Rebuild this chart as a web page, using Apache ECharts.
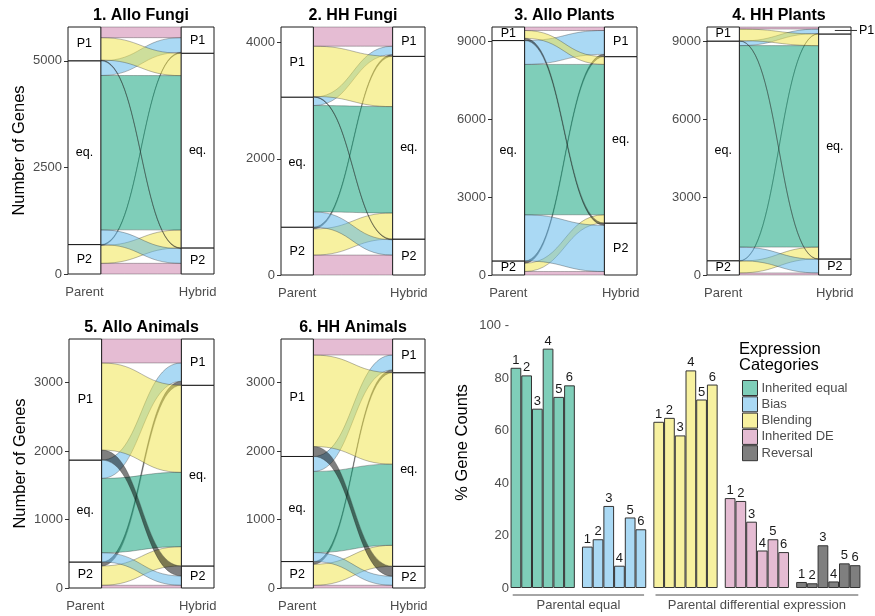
<!DOCTYPE html>
<html>
<head>
<meta charset="utf-8">
<script src="https://cdn.jsdelivr.net/npm/echarts@6/dist/echarts.min.js"></script>
<style>
html, body { margin: 0; padding: 0; background: #fff; }
#chart { width: 875px; height: 616px; }
</style>
</head>
<body>
<div id="chart"></div>
<script>
const panelTitles = ['1. Allo Fungi', '2. HH Fungi', '3. Allo Plants', '4. HH Plants', '5. Allo Animals', '6. HH Animals'];
const strata = ['P2', 'eq.', 'P1']; // bottom to top
const categories = ['Inherited equal', 'Bias', 'Blending', 'Inherited DE', 'Reversal'];

// gene counts per flow, parent stratum -> hybrid stratum
// order: P2>P2, P2>eq, P2>P1, eq>P2, eq>eq, eq>P1, P1>P2, P1>eq, P1>P1
const flowFrom = [0, 0, 0, 1, 1, 1, 2, 2, 2];
const flowTo = [0, 1, 2, 0, 1, 2, 0, 1, 2];
const flowCat = [3, 2, 4, 1, 0, 1, 4, 2, 3];

const alloFungi = [250, 420, 20, 345, 3620, 345, 17, 525, 250];
const hhFungi = [343, 450, 30, 263, 1830, 145, 12, 865, 330];
const alloPlants = [135, 320, 88, 1780, 5800, 920, 88, 300, 135];
const hhPlants = [80, 455, 15, 525, 7760, 175, 14, 450, 78];
const alloAnimals = [40, 282, 58, 136, 1086, 268, 146, 1273, 350];
const hhAnimals = [40, 306, 40, 131, 1185, 218, 146, 1335, 234];
const panelFlows = [alloFungi, hhFungi, alloPlants, hhPlants, alloAnimals, hhAnimals];

const yTicks = [
	[0, 2500, 5000],
	[0, 2000, 4000],
	[0, 3000, 6000, 9000],
	[0, 3000, 6000, 9000],
	[0, 1000, 2000, 3000],
	[0, 1000, 2000, 3000],
];

// % gene counts, one value per panel (1..6)
const pctEqual = [84.0, 81.1, 68.4, 91.3, 72.9, 77.3];
const pctBias = [15.8, 18.6, 31.3, 8.5, 26.9, 22.4];
const pctBlending = [63.4, 64.9, 58.2, 83.0, 71.9, 77.6];
const pctInheritedDE = [34.3, 33.2, 25.3, 14.3, 18.6, 13.7];
const pctReversal = [2.3, 1.8, 16.3, 2.5, 9.4, 8.7];
const pctTicks = [0, 20, 40, 60, 80, 100];

const groupLabels = ['Parental equal', 'Parental differential expression'];
const groupFrom = [0, 2];
const groupTo = [1, 4];

// styles
const catColors = ['rgba(0,158,115,0.5)', 'rgba(86,180,233,0.5)', 'rgba(240,228,66,0.5)', 'rgba(204,121,167,0.5)', 'rgba(0,0,0,0.5)'];
const font = 'Liberation Sans, Arial, sans-serif';
const strataW = 0.29;
const grids = [
	{left: 68, top: 27, width: 146, height: 247},
	{left: 281, top: 27, width: 144, height: 248},
	{left: 492, top: 27, width: 145, height: 248},
	{left: 707, top: 27, width: 144, height: 248},
	{left: 69, top: 339, width: 145, height: 249},
	{left: 281, top: 339, width: 144, height: 249},
	{left: 507, top: 297, width: 357, height: 291},
];

function layoutPanel(counts) {
	const left = [], right = [], stratL = [], stratR = [];
	let y = 0;
	for (let s = 0; s < 3; s++) {
		const start = y;
		for (let k = 0; k < 9; k++) {
			if (flowFrom[k] !== s) continue;
			left[k] = [y, y + counts[k]];
			y += counts[k];
		}
		stratL.push([1, start, y, s]);
	}
	const total = y;
	y = 0;
	for (let t = 0; t < 3; t++) {
		const start = y;
		for (let k = 0; k < 9; k++) {
			if (flowTo[k] !== t) continue;
			right[k] = [y, y + counts[k]];
			y += counts[k];
		}
		stratR.push([2, start, y, t]);
	}
	const flows = counts.map((c, k) => [left[k][0], left[k][1], right[k][0], right[k][1], flowCat[k]]);
	return {flows, strata: stratL.concat(stratR), total};
}

function flowItem(params, api) {
	const x0 = 1 + strataW / 2, x1 = 2 - strataW / 2;
	const a0 = api.coord([x0, api.value(0)]), a1 = api.coord([x0, api.value(1)]);
	const b0 = api.coord([x1, api.value(2)]), b1 = api.coord([x1, api.value(3)]);
	const xm = (a0[0] + b0[0]) / 2;
	const d = `M${a0[0]},${a0[1]} C${xm},${a0[1]} ${xm},${b0[1]} ${b0[0]},${b0[1]} ` +
		`L${b1[0]},${b1[1]} C${xm},${b1[1]} ${xm},${a1[1]} ${a1[0]},${a1[1]} Z`;
	return {
		type: 'path',
		shape: {pathData: d},
		style: {fill: catColors[api.value(4)], stroke: 'rgba(40,40,40,0.55)', lineWidth: 0.6},
	};
}

function stratumItem(params, api) {
	const xc = api.value(0);
	const p0 = api.coord([xc - strataW / 2, api.value(2)]);
	const p1 = api.coord([xc + strataW / 2, api.value(1)]);
	const h = p1[1] - p0[1];
	const cy = (p0[1] + p1[1]) / 2;
	const cx = (p0[0] + p1[0]) / 2;
	const label = strata[api.value(3)];
	const children = [{
		type: 'rect',
		shape: {x: p0[0], y: p0[1], width: p1[0] - p0[0], height: h},
		style: {fill: '#fff', stroke: '#1a1a1a', lineWidth: 1},
	}];
	if (h >= 11) {
		children.push({type: 'text', style: {text: label, x: cx, y: cy, align: 'center', verticalAlign: 'middle',
			fontSize: 12.5, fontFamily: font, fill: '#000'}});
	} else {
		// too small, put the label outside with a leader line
		children.push({type: 'line', shape: {x1: cx, y1: cy, x2: p1[0] + 6, y2: cy}, style: {stroke: '#333', lineWidth: 1}});
		children.push({type: 'text', style: {text: label, x: p1[0] + 8, y: cy, align: 'left', verticalAlign: 'middle',
			fontSize: 12.5, fontFamily: font, fill: '#000'}});
	}
	return {type: 'group', children};
}

function bracketItem(params, api) {
	const p0 = api.coord([api.value(0) - 0.42, 0]);
	const p1 = api.coord([api.value(1) + 0.42, 0]);
	const y = p0[1] + 7;
	return {
		type: 'group',
		children: [
			{type: 'line', shape: {x1: p0[0], y1: y, x2: p1[0], y2: y}, style: {stroke: '#4d4d4d', lineWidth: 1}},
			{type: 'text', style: {text: groupLabels[api.value(2)], x: (p0[0] + p1[0]) / 2, y: y + 4,
				align: 'center', verticalAlign: 'top', fontSize: 13, fontFamily: font, fill: '#4d4d4d'}},
		],
	};
}

const xAxes = [], yAxes = [], series = [], titles = [];

panelFlows.forEach((counts, i) => {
	const lay = layoutPanel(counts);
	const g = grids[i];
	titles.push({
		text: panelTitles[i], left: g.left + g.width / 2, top: g.top - 19, textAlign: 'center', padding: 0,
		textStyle: {fontSize: 16, fontWeight: 'bold', color: '#000', fontFamily: font},
	});
	xAxes.push({
		type: 'value', gridIndex: i, min: 1 - strataW / 2, max: 2 + strataW / 2,
		axisLine: {show: false}, axisTick: {show: false}, splitLine: {show: false},
		axisLabel: {customValues: [1, 2], formatter: v => (Math.round(v) === 1 ? 'Parent' : 'Hybrid'),
			color: '#4d4d4d', fontSize: 13, margin: 12, fontFamily: font},
	});
	yAxes.push({
		type: 'value', gridIndex: i, min: 0, max: lay.total,
		axisLine: {show: false}, splitLine: {show: false},
		axisTick: {show: true, customValues: yTicks[i], length: 4, lineStyle: {color: '#333'}},
		axisLabel: {customValues: yTicks[i], formatter: v => String(v),
			color: '#4d4d4d', fontSize: 13, margin: 6, fontFamily: font},
		name: (i === 0 || i === 4) ? 'Number of Genes' : '',
		nameLocation: 'middle', nameGap: 40,
		nameTextStyle: {fontSize: 16.5, color: '#000', fontFamily: font},
	});
	series.push({
		type: 'custom', name: 'flows' + i, xAxisIndex: i, yAxisIndex: i,
		renderItem: flowItem, data: lay.flows, z: 2, silent: true,
	});
	series.push({
		type: 'custom', name: 'strata' + i, xAxisIndex: i, yAxisIndex: i,
		renderItem: stratumItem, data: lay.strata, z: 3, silent: true,
	});
});

// bar chart
const bg = 6;
xAxes.push({
	type: 'category', gridIndex: bg, data: categories,
	axisLine: {show: false}, axisTick: {show: false}, axisLabel: {show: false},
});
xAxes.push({type: 'value', gridIndex: bg, min: -0.5, max: 4.5, show: false});
yAxes.push({
	type: 'value', gridIndex: bg, min: 0, max: 111,
	axisLine: {show: false}, splitLine: {show: false}, axisTick: {show: false},
	axisLabel: {customValues: pctTicks, formatter: v => (v === 100 ? '100 -' : String(v)),
		color: '#4d4d4d', fontSize: 13, margin: -2, fontFamily: font},
	name: '% Gene Counts', nameLocation: 'middle', nameGap: 36,
	nameTextStyle: {fontSize: 16.5, color: '#000', fontFamily: font},
});

const pctByCat = [pctEqual, pctBias, pctBlending, pctInheritedDE, pctReversal];
for (let p = 0; p < 6; p++) {
	series.push({
		type: 'bar', name: String(p + 1), xAxisIndex: 6, yAxisIndex: 6,
		barGap: 0, barCategoryGap: '10%',
		data: pctByCat.map((vals, c) => ({value: vals[p], itemStyle: {color: catColors[c]}})),
		itemStyle: {borderColor: '#333', borderWidth: 1},
		label: {show: true, position: 'top', distance: 1, formatter: '{a}', fontSize: 13, color: '#1a1a1a', fontFamily: font},
		silent: true,
	});
}
series.push({
	type: 'custom', name: 'groups', xAxisIndex: 7, yAxisIndex: 6,
	renderItem: bracketItem, data: groupLabels.map((l, i) => [groupFrom[i], groupTo[i], i]), silent: true,
});
// legend entries
categories.forEach((c, i) => {
	series.push({type: 'line', name: c, xAxisIndex: 6, yAxisIndex: 6, data: [], itemStyle: {color: catColors[i]}});
});

titles.push({
	text: 'Expression\nCategories', left: 739, top: 341, padding: 0,
	textStyle: {fontSize: 16.5, fontWeight: 'normal', color: '#000', lineHeight: 16.5, fontFamily: font},
});

const chart = echarts.init(document.getElementById('chart'), null, {renderer: 'canvas'});
chart.setOption({
	animation: false,
	backgroundColor: '#fff',
	textStyle: {fontFamily: font},
	title: titles,
	grid: grids,
	xAxis: xAxes,
	yAxis: yAxes,
	legend: {
		data: categories, orient: 'vertical', left: 742, top: 380, padding: 0,
		itemWidth: 15, itemHeight: 15, itemGap: 0.3, icon: 'rect', selectedMode: false,
		itemStyle: {borderColor: '#333', borderWidth: 1},
		textStyle: {fontSize: 13, color: '#4d4d4d', padding: [0, 0, 0, -1]},
	},
	series: series,
});
</script>
</body>
</html>
